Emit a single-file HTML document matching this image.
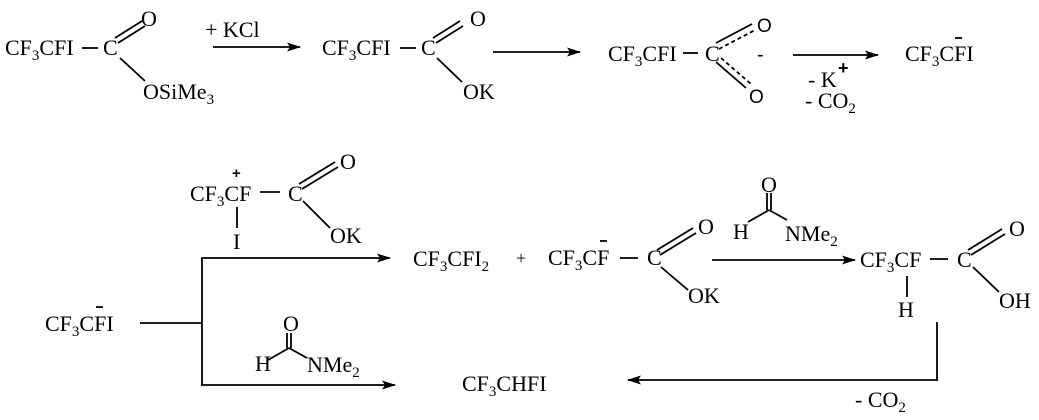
<!DOCTYPE html>
<html><head><meta charset="utf-8"><style>
html,body{margin:0;padding:0;background:#fff}
svg{display:block}
text{font-family:"Liberation Serif",serif;font-size:22px;fill:#000}
tspan.s{font-size:15px}
</style></head><body>
<svg width="1039" height="420" viewBox="0 0 1039 420" xmlns="http://www.w3.org/2000/svg">
<defs><marker id="a" markerWidth="14" markerHeight="9" refX="13" refY="4.5" orient="auto" markerUnits="userSpaceOnUse"><path d="M0,0 L14,4.5 L0,9 L3,4.5 Z" fill="#000"/></marker></defs>
<g stroke="#000" stroke-width="1.8" fill="none">
<line x1="82" y1="48" x2="98" y2="48"/>
<line x1="115" y1="38" x2="142" y2="21"/><line x1="118" y1="43" x2="145" y2="26"/>
<line x1="120" y1="58" x2="145" y2="81"/>
<line x1="213" y1="47" x2="300" y2="47" marker-end="url(#a)"/>
<line x1="400" y1="48" x2="416" y2="48"/>
<line x1="433" y1="38" x2="460" y2="21"/><line x1="436" y1="43" x2="463" y2="26"/>
<line x1="437" y1="58" x2="462" y2="82"/>
<line x1="493" y1="52" x2="580" y2="52" marker-end="url(#a)"/>
<line x1="683" y1="53" x2="698" y2="53"/>
<line x1="716" y1="43" x2="752" y2="24"/><line x1="719" y1="49" x2="755" y2="30" stroke-dasharray="4,3"/>
<line x1="716" y1="62" x2="746" y2="88"/><line x1="721" y1="58" x2="751" y2="84" stroke-dasharray="4,3"/>
<line x1="793" y1="55" x2="878" y2="55" marker-end="url(#a)"/>
<line x1="955" y1="38" x2="962" y2="38"/>
<line x1="260" y1="192" x2="280" y2="192"/>
<line x1="299" y1="184" x2="335" y2="162"/><line x1="302" y1="189" x2="338" y2="167"/>
<line x1="303" y1="201" x2="330" y2="228"/>
<line x1="237" y1="207" x2="237" y2="228"/>
<line x1="140" y1="323" x2="202" y2="323"/>
<line x1="202" y1="258" x2="202" y2="385"/>
<line x1="201" y1="258" x2="390" y2="258" marker-end="url(#a)"/>
<line x1="201" y1="385" x2="395" y2="385" marker-end="url(#a)"/>
<line x1="96" y1="307" x2="103" y2="307"/>
<line x1="287" y1="333" x2="287" y2="348"/><line x1="291" y1="333" x2="291" y2="348"/>
<line x1="268" y1="360" x2="289" y2="348"/><line x1="289" y1="348" x2="307" y2="358"/>
<line x1="600" y1="241" x2="607" y2="241"/>
<line x1="620" y1="258" x2="638" y2="258"/>
<line x1="657" y1="250" x2="693" y2="228"/><line x1="660" y1="255" x2="696" y2="233"/>
<line x1="661" y1="267" x2="688" y2="290"/>
<line x1="767" y1="193" x2="767" y2="210"/><line x1="771" y1="193" x2="771" y2="210"/>
<line x1="748" y1="222" x2="769" y2="210"/><line x1="769" y1="210" x2="787" y2="220"/>
<line x1="712" y1="260" x2="855" y2="260" marker-end="url(#a)"/>
<line x1="930" y1="259" x2="948" y2="259"/>
<line x1="968" y1="250" x2="1002" y2="229"/><line x1="971" y1="255" x2="1005" y2="234"/>
<line x1="973" y1="267" x2="999" y2="292"/>
<line x1="907" y1="276" x2="907" y2="297"/>
<line x1="937" y1="322" x2="937" y2="381"/>
<line x1="938" y1="380" x2="628" y2="380" marker-end="url(#a)"/>
</g>
<text x="5" y="55">CF<tspan class="s" dy="5">3</tspan><tspan dy="-5">CFI</tspan></text>
<text x="103" y="55">C</text>
<text x="141" y="26">O</text>
<text x="143" y="99">OSiMe<tspan class="s" dy="5">3</tspan></text>
<text x="205" y="37">+ KCl</text>
<text x="322" y="55">CF<tspan class="s" dy="5">3</tspan><tspan dy="-5">CFI</tspan></text>
<text x="421" y="55">C</text>
<text x="470" y="26">O</text>
<text x="463" y="99">OK</text>
<text x="608" y="61">CF<tspan class="s" dy="5">3</tspan><tspan dy="-5">CFI</tspan></text>
<text x="705" y="61">C</text>
<text x="757" y="32" style="font-family:'Liberation Sans',sans-serif;font-size:19px">O</text>
<text x="749" y="103" style="font-family:'Liberation Sans',sans-serif;font-size:19px">O</text>
<text x="757" y="61" style="font-family:'Liberation Sans',sans-serif;font-size:20px">-</text>
<text x="808" y="87">- K</text><text x="838" y="74" style="font-family:'Liberation Sans',sans-serif;font-size:18px;font-weight:bold">+</text>
<text x="805" y="108">- CO<tspan class="s" dy="5">2</tspan></text>
<text x="905" y="61">CF<tspan class="s" dy="5">3</tspan><tspan dy="-5">CFI</tspan></text>
<text x="190" y="201">CF<tspan class="s" dy="5">3</tspan><tspan dy="-5">CF</tspan></text>
<text x="232" y="178" style="font-family:'Liberation Sans',sans-serif;font-size:15px;font-weight:bold">+</text>
<text x="288" y="201">C</text>
<text x="340" y="169">O</text>
<text x="330" y="243">OK</text>
<text x="233" y="249">I</text>
<text x="45" y="331">CF<tspan class="s" dy="5">3</tspan><tspan dy="-5">CFI</tspan></text>
<text x="413" y="266">CF<tspan class="s" dy="5">3</tspan><tspan dy="-5">CFI</tspan><tspan class="s" dy="5">2</tspan></text>
<text x="516" y="264" style="font-size:18px">+</text>
<text x="548" y="265">CF<tspan class="s" dy="5">3</tspan><tspan dy="-5">CF</tspan></text>
<text x="647" y="265">C</text>
<text x="698" y="234">O</text>
<text x="688" y="303">OK</text>
<text x="761" y="192">O</text>
<text x="733" y="239">H</text>
<text x="785" y="241">NMe<tspan class="s" dy="5">2</tspan></text>
<text x="860" y="267">CF<tspan class="s" dy="5">3</tspan><tspan dy="-5">CF</tspan></text>
<text x="957" y="267">C</text>
<text x="1009" y="236">O</text>
<text x="999" y="308">OH</text>
<text x="898" y="317">H</text>
<text x="855" y="407">- CO<tspan class="s" dy="5">2</tspan></text>
<text x="283" y="331">O</text>
<text x="255" y="371">H</text>
<text x="307" y="372">NMe<tspan class="s" dy="5">2</tspan></text>
<text x="462" y="391">CF<tspan class="s" dy="5">3</tspan><tspan dy="-5">CHFI</tspan></text>
</svg>
</body></html>
